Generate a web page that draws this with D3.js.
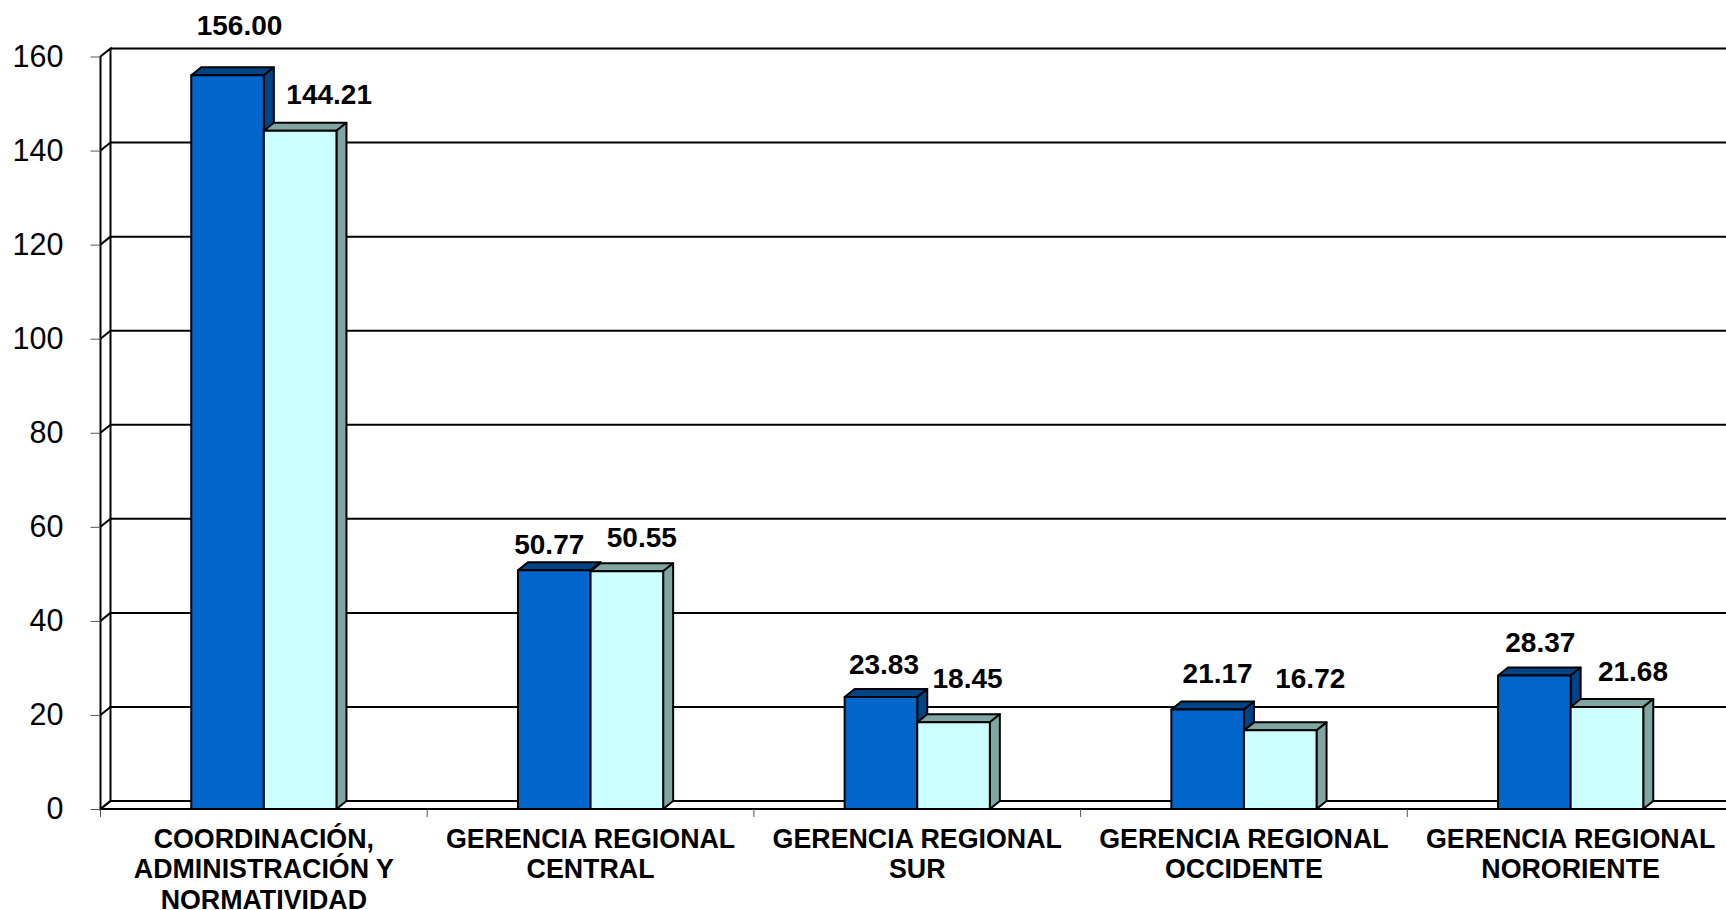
<!DOCTYPE html>
<html>
<head>
<meta charset="utf-8">
<script src="https://cdn.jsdelivr.net/npm/d3@7"></script>
<style>
    html, body { margin: 0; padding: 0; background: #fff; overflow: hidden; }
    text { font-family: "Liberation Sans", Arial, sans-serif; fill: #000; }
</style>
</head>
<body>
<div id="chart"></div>
<script>
const categories = [
    ["COORDINACIÓN,", "ADMINISTRACIÓN Y", "NORMATIVIDAD"],
    ["GERENCIA REGIONAL", "CENTRAL"],
    ["GERENCIA REGIONAL", "SUR"],
    ["GERENCIA REGIONAL", "OCCIDENTE"],
    ["GERENCIA REGIONAL", "NORORIENTE"]
];
const seriesA = [156.00, 50.77, 23.83, 21.17, 28.37];
const seriesB = [144.21, 50.55, 18.45, 16.72, 21.68];
const yTicks = [0, 20, 40, 60, 80, 100, 120, 140, 160];

// the labels were placed by hand in the original, so they sit off the bars by varying amounts
const labelNudgeA = [[12, -32], [-5, -8], [3, -15], [10, -18], [6, -16]];
const labelNudgeB = [[29, -19], [15, -16], [14, -26], [30, -34], [26, -18]];

const chartWidth = 1726;
const chartHeight = 910;
const left = 100.5;
const bandStep = 326.7;
const y0 = 809;
const yTop = 56.5;
const depthX = 10;
const depthY = 8;

const svg = d3.select("#chart")
              .append("svg")
              .attr("width", chartWidth)
              .attr("height", chartHeight)
              .style("display", "block");

const x = d3.scaleBand()
            .domain(d3.range(categories.length))
            .range([left, left + bandStep * categories.length])
            .paddingInner(0)
            .paddingOuter(0);

const inner = d3.scaleBand()
                .domain([0, 1])
                .range([0, x.bandwidth()])
                .paddingOuter(1.25)
                .paddingInner(0);

const y = d3.scaleLinear()
            .domain([0, 160])
            .range([y0, yTop]);

// walls
const wall = svg.append("g")
                .attr("fill", "none")
                .attr("stroke", "#000")
                .attr("stroke-width", 2);

wall.append("path")
    .attr("fill", "#fff")
    .attr("d", "M" + left + "," + y(0) + "L" + left + "," + y(160) +
               "L" + (left + depthX) + "," + (y(160) - depthY) +
               "L" + (left + depthX) + "," + (y(0) - depthY) + "Z");

wall.selectAll("line.grid")
    .data(yTicks.slice(1))
    .enter()
    .append("line")
    .attr("class", "grid")
    .attr("x1", left + depthX)
    .attr("x2", chartWidth)
    .attr("y1", function (d) { return y(d) - depthY; })
    .attr("y2", function (d) { return y(d) - depthY; });

wall.append("line")
    .attr("x1", left + depthX)
    .attr("x2", chartWidth)
    .attr("y1", y(0) - depthY)
    .attr("y2", y(0) - depthY);

wall.selectAll("line.diag")
    .data(yTicks.slice(1, -1))
    .enter()
    .append("line")
    .attr("class", "diag")
    .attr("x1", left)
    .attr("x2", left + depthX)
    .attr("y1", function (d) { return y(d); })
    .attr("y2", function (d) { return y(d) - depthY; });

// floor front edge
wall.append("line")
    .attr("x1", left)
    .attr("x2", chartWidth)
    .attr("y1", y(0))
    .attr("y2", y(0));

wall.append("line")
    .attr("x1", left)
    .attr("x2", left + depthX)
    .attr("y1", y(0))
    .attr("y2", y(0) - depthY);

// axes
const yAxis = svg.append("g")
                 .attr("transform", "translate(" + left + ",0)")
                 .call(d3.axisLeft(y).tickValues(yTicks).tickSize(10).tickPadding(27).tickFormat(d3.format("d")));
yAxis.select(".domain").remove();
yAxis.selectAll("line").attr("stroke", "#555").attr("stroke-width", 1);
yAxis.selectAll("text")
     .style("font-size", "30.5px")
     .attr("dy", "0.32em");

const xTickPositions = d3.range(categories.length + 1).map(function (i) {
    return left + x.step() * i;
});
svg.selectAll("line.xtick")
   .data(xTickPositions)
   .enter()
   .append("line")
   .attr("class", "xtick")
   .attr("x1", function (d) { return d; })
   .attr("x2", function (d) { return d; })
   .attr("y1", y0)
   .attr("y2", y0 + 8)
   .attr("stroke", "#555")
   .attr("stroke-width", 1);

const catLabels = svg.selectAll("text.cat")
                     .data(categories)
                     .enter()
                     .append("text")
                     .attr("class", "cat")
                     .attr("text-anchor", "middle")
                     .style("font-size", "26.8px")
                     .style("font-weight", "bold");
catLabels.each(function (lines, i) {
    d3.select(this)
      .selectAll("tspan")
      .data(lines)
      .enter()
      .append("tspan")
      .attr("x", x(i) + x.bandwidth() / 2)
      .attr("y", function (d, j) { return 848 + j * 30.4; })
      .text(function (d) { return d; });
});

function drawBars(values, key, front, shade) {
    const w = inner.bandwidth();
    const g = svg.selectAll("g.bar" + key)
                 .data(values)
                 .enter()
                 .append("g")
                 .attr("class", "bar" + key)
                 .attr("stroke", "#000")
                 .attr("stroke-width", 2)
                 .attr("stroke-linejoin", "round");

    g.append("path")
     .attr("fill", shade)
     .attr("d", function (d, i) {
         const bx = x(i) + inner(key);
         return "M" + bx + "," + y(d) + "l" + depthX + "," + (-depthY) +
                "h" + w + "l" + (-depthX) + "," + depthY + "Z";
     });

    g.append("path")
     .attr("fill", shade)
     .attr("d", function (d, i) {
         const bx = x(i) + inner(key) + w;
         return "M" + bx + "," + y(d) + "l" + depthX + "," + (-depthY) +
                "V" + (y(0) - depthY) + "L" + bx + "," + y(0) + "Z";
     });

    g.append("rect")
     .attr("x", function (d, i) { return x(i) + inner(key); })
     .attr("y", function (d) { return y(d); })
     .attr("width", w)
     .attr("height", function (d) { return y(0) - y(d); })
     .attr("fill", front);
}

function drawLabels(values, key, nudge) {
    svg.selectAll("text.val" + key)
       .data(values)
       .enter()
       .append("text")
       .attr("class", "val" + key)
       .attr("text-anchor", "middle")
       .attr("x", function (d, i) { return x(i) + inner(key) + inner.bandwidth() / 2 + nudge[i][0]; })
       .attr("y", function (d, i) { return y(d) - depthY + nudge[i][1]; })
       .style("font-size", "28px")
       .style("font-weight", "bold")
       .text(function (d) { return d.toFixed(2); });
}

drawBars(seriesA, 0, "#0066CC", "#004488");
drawBars(seriesB, 1, "#CCFFFF", "#80A6A4");
drawLabels(seriesA, 0, labelNudgeA);
drawLabels(seriesB, 1, labelNudgeB);
</script>
</body>
</html>
